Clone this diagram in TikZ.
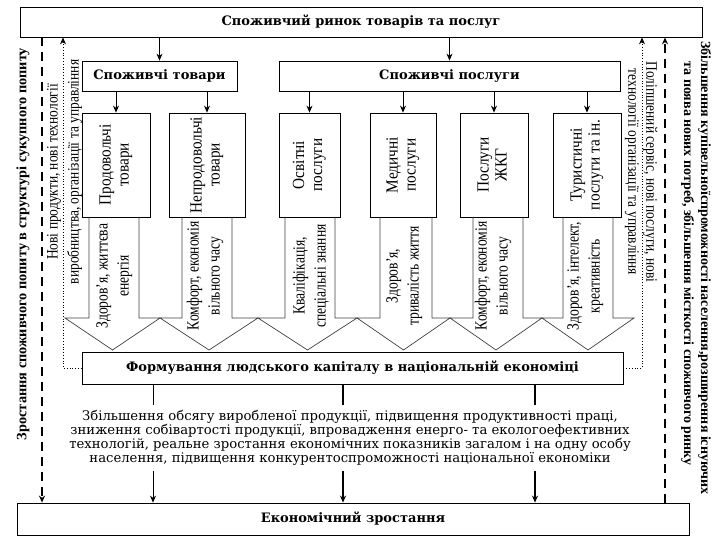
\documentclass[tikz,border=0pt]{standalone}
\usepackage{graphicx}
\usepackage{fontspec}
\setmainfont{Liberation Serif}
\newfontfamily\wideserif{DejaVu Serif}
\usetikzlibrary{arrows.meta}
\newcommand{\vtxt}[2][0.85]{\rotatebox{90}{\scalebox{#1}[1]{\begin{tabular}{@{}c@{}}#2\end{tabular}}}}
\newcommand{\dtxt}[2][0.85]{\rotatebox{-90}{\scalebox{#1}[1]{\begin{tabular}{@{}c@{}}#2\end{tabular}}}}

\begin{document}
\begin{tikzpicture}[x=1pt,y=-1pt,line width=0.8pt,
  box/.style={draw,inner sep=0pt,font=\wideserif\bfseries\fontsize{13}{15}\selectfont},
  sub/.style={draw,inner sep=0pt,minimum height=104pt,font=\fontsize{17}{18}\selectfont},
  vlab/.style={inner sep=0pt,font=\fontsize{17}{21}\selectfont},
  arr/.style={-{Stealth[length=7pt,width=6pt]}},
  stem/.style={black!75,line width=0.7pt}]
 \useasboundingbox (0,0) rectangle (720,540);
 \node[box,minimum width=682pt,minimum height=30pt] (market) at (361,22) {Споживчий ринок товарів та послуг};
 \node[box,minimum width=155pt,minimum height=30pt] (goods) at (159.5,76) {Споживчі товари};
 \node[box,minimum width=341pt,minimum height=30pt] (serv) at (449.5,76) {Споживчі послуги};
 \foreach \n/\x/\w/\lab in {food/116/68/{Продовольчі\\товари},nonfood/207/76/{Непродовольчі\\товари},
   edu/309.5/61/{Освітні\\послуги},med/403/66/{Медичні\\послуги},util/494/68/{Послуги\\ЖКГ},
   tour/587/68/{Туристичні\\послуги та ін.}}
   {\node[sub,minimum width=\w pt] (\n) at (\x,165) {\vtxt[0.9]{\lab}};}
 \foreach \n in {goods,serv}
   {\draw[arr] (market.south -| \n.north) -- (\n.north);}
 \foreach \p/\n in {goods/food,goods/nonfood,serv/edu,serv/med,serv/util,serv/tour}
   {\draw[arr] (\p.south -| \n.north) -- (\n.north);}
 \foreach \l/\r/\a/\b in {89/139/65/160,182/232/160/258,285/335/258/357,380/432/357/450,473/523/450/542,563/613/542/634}
   {\draw[stem] (\l,217) -- (\l,318) -- (\a,318) -- ({(\a+\b)/2},350) -- (\b,318) -- (\r,318) -- (\r,217);}
 \foreach \i/\x/\lab in {1/114/{Здоров'я, життєва\\енергія},2/205/{Комфорт, економія\\вільного часу},
   3/311/{Кваліфікація,\\спеціальні знання},4/404/{Здоров'я,\\тривалість життя},
   5/493/{Комфорт, економія\\вільного часу},6/585/{Здоров'я, інтелект,\\креативність}}
   {\node[vlab] (value\i) at (\x,276) {\vtxt[0.8]{\lab}};}
 \node[box,minimum width=541pt,minimum height=32pt] (hc) at (352.5,368) {Формування людського капіталу в національній економіці};
 \node[inner sep=5pt,align=center,font=\wideserif\fontsize{13.2}{14.2}\selectfont] (eff) at (350,438)
   {Збільшення обсягу виробленої продукції, підвищення продуктивності праці,\\
    зниження собівартості продукції, впровадження енерго- та екологоефективних\\
    технологій, реальне зростання економічних показників загалом і на одну особу\\
    населення, підвищення конкурентоспроможності національної економіки};
 \node[box,minimum width=672pt,minimum height=32pt] (growth) at (353,519) {Економічний зростання};
 \foreach \i/\x/\w in {1/153/0.8,2/343/1.5,3/535/1.5}
   {\coordinate (k\i) at (\x,0);
    \draw[line width=\w pt] (hc.south -| k\i) -- (eff.north -| k\i);
    \draw[arr,line width=\w pt] (eff.south -| k\i) -- (growth.north -| k\i);}
 \coordinate (fbL) at (63,0);
 \coordinate (fbR) at (642,0);
 \draw[arr,dotted] (hc.west) -| (market.south -| fbL);
 \draw[arr,dotted] (hc.east) -| (market.south -| fbR);
 \coordinate (dL) at (42,0);
 \coordinate (dR) at (665,0);
 \draw[arr,line width=2.4pt,dash pattern=on 9pt off 6pt] (market.south -| dL) -- (growth.north -| dL);
 \draw[arr,line width=2.4pt,dash pattern=on 9pt off 6pt] (growth.north -| dR) -- (market.south -| dR);
 \node[inner sep=0pt,font=\bfseries\fontsize{14.3}{16}\selectfont] (demand) at (23,244)
   {\rotatebox{90}{Зростання споживчого попиту в структурі сукупного попиту}};
 \node[vlab,font=\fontsize{16}{21}\selectfont] (newL) at (64,172)
   {\vtxt[0.84]{Нові продукти, нові технології\\виробництва, організації та управління}};
 \node[vlab,font=\fontsize{16}{18}\selectfont] (newR) at (641,172)
   {\dtxt[0.84]{Поліпшений сервіс, нові послуги, нові\\технології організації та управління}};
 \node[inner sep=0pt,font=\bfseries\fontsize{14}{17}\selectfont] (capacity) at (696,268)
   {\rotatebox{-90}{\begin{tabular}{@{}l@{}}Збільшення купівельноїспроможності населення,розширення існуючих\\
    \hspace*{20pt}та поява нових потреб, збільшення місткості споживчого ринку\end{tabular}}};
\end{tikzpicture}
\end{document}
